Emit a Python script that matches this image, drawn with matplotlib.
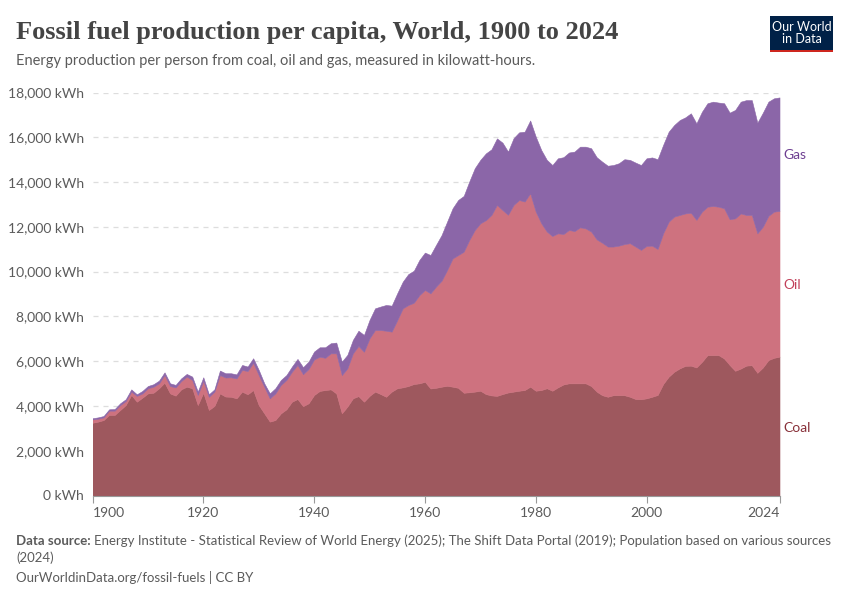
import matplotlib
matplotlib.use('Agg')
import matplotlib.pyplot as plt
from matplotlib.patches import Rectangle

# ------------------------------------------------------------
#  Data (kWh per person)
# ------------------------------------------------------------
years = list(range(1900, 2025))

coal = [
    3250, 3300, 3370, 3600, 3600, 3820, 4040, 4490, 4190, 4370,   # 1900s
    4560, 4590, 4790, 5040, 4560, 4460, 4740, 4860, 4790, 4040,   # 1910s
    4590, 3820, 4000, 4560, 4420, 4410, 4340, 4640, 4520, 4710,   # 1920s
    4040, 3670, 3300, 3370, 3670, 3850, 4190, 4310, 3990, 4120,   # 1930s
    4490, 4670, 4710, 4740, 4560, 3670, 3970, 4340, 4440, 4190,   # 1940s
    4450, 4640, 4530, 4410, 4640, 4790, 4830, 4890, 4980, 5010,   # 1950s
    5080, 4780, 4810, 4860, 4900, 4860, 4810, 4590, 4610, 4640,   # 1960s
    4680, 4530, 4470, 4450, 4530, 4600, 4640, 4680, 4710, 4860,   # 1970s
    4680, 4710, 4790, 4680, 4830, 4960, 5010, 5010, 5010, 5010,   # 1980s
    4890, 4640, 4480, 4410, 4480, 4480, 4480, 4410, 4310, 4300,   # 1990s
    4340, 4410, 4490, 4980, 5310, 5530, 5680, 5790, 5800, 5720,   # 2000s
    5970, 6270, 6270, 6270, 6120, 5830, 5570, 5670, 5800, 5820,   # 2010s
    5480, 5720, 6050, 6150, 6200,                                 # 2020s
]

oil = [
    150, 130, 120, 190, 190, 220, 180, 150, 260, 190,
    230, 270, 220, 340, 330, 370, 370, 450, 370, 450,
    540, 590, 640, 820, 850, 870, 890, 970, 1040, 1220,
    1340, 1190, 1040, 1190, 1270, 1310, 1340, 1520, 1430, 1530,
    1590, 1530, 1440, 1610, 1790, 1710, 1710, 2010, 2240, 2230,
    2570, 2750, 2860, 2950, 2680, 3040, 3530, 3620, 3630, 3940,
    4100, 4250, 4520, 4730, 5170, 5730, 5930, 6300, 6800, 7220,
    7480, 7770, 8060, 8530, 8220, 7940, 8340, 8520, 8420, 8640,
    8000, 7450, 7000, 6910, 6880, 6720, 6850, 6800, 6970, 6920,
    6900, 6800, 6810, 6710, 6640, 6680, 6750, 6860, 6810, 6670,
    6810, 6750, 6520, 6730, 6920, 6930, 6850, 6810, 6830, 6590,
    6710, 6630, 6660, 6630, 6710, 6510, 6810, 6930, 6730, 6710,
    6230, 6290, 6440, 6530, 6510,
]

gas = [
    50, 60, 60, 60, 70, 80, 80, 100, 70, 110,
    100, 110, 120, 120, 120, 110, 120, 120, 150, 150,
    150, 110, 100, 200, 190, 180, 180, 220, 200, 200,
    230, 150, 220, 230, 220, 220, 230, 270, 310, 330,
    350, 420, 470, 450, 480, 600, 600, 600, 680, 750,
    820, 970, 1050, 1150, 1160, 1200, 1190, 1380, 1430, 1570,
    1670, 1710, 1860, 2040, 2160, 2240, 2460, 2490, 2610, 2760,
    2830, 2980, 2930, 2970, 3010, 2820, 2980, 3020, 3120, 3250,
    3350, 3270, 3200, 3170, 3350, 3430, 3460, 3550, 3600, 3650,
    3720, 3670, 3620, 3610, 3640, 3680, 3790, 3720, 3750, 3790,
    3910, 3940, 4010, 3950, 4020, 4090, 4240, 4290, 4440, 4310,
    4460, 4620, 4660, 4650, 4690, 4760, 4840, 4990, 5130, 5130,
    4940, 5090, 5100, 5060, 5070,
]

series_names = ['Coal', 'Oil', 'Gas']
fill_colors  = ['#9E585E', '#CE727F', '#8B66A8']
label_colors = ['#883039', '#C2405A', '#6D3E91']

y_ticks      = list(range(0, 18001, 2000))
x_tick_years = [1900, 1920, 1940, 1960, 1980, 2000, 2024]

TEXT_GRAY = '#5B5B5B'
plt.rcParams['font.family'] = ['Lato', 'DejaVu Sans']

# ------------------------------------------------------------
#  Figure
# ------------------------------------------------------------
W, H = 850, 600
fig = plt.figure(figsize=(W / 100, H / 100), dpi=100)

def px(x, y):
    # pixel position -> figure fraction
    return x / W, 1 - y / H

left, right, top, bottom = 92.5, 779.5, 92.5, 495.5
ax = fig.add_axes([left / W, 1 - bottom / H, (right - left) / W, (bottom - top) / H])

stack = ax.stackplot(years, coal, oil, gas, colors=fill_colors, linewidth=0.4)
for poly, c in zip(stack, fill_colors):
    poly.set_edgecolor(c)

ax.set_xlim(1900, 2024)
ax.set_ylim(0, 18000)

# grid
ax.set_yticks(y_ticks)
ax.set_yticklabels([f'{v:,} kWh' for v in y_ticks], color=TEXT_GRAY, fontsize=10)
for v in y_ticks[1:]:
    ax.axhline(v, color='#DDDDDD', lw=0.9, ls=(0, (4, 4)), zorder=0)
ax.tick_params(axis='y', length=0, pad=6)

ax.set_xticks(x_tick_years)
ax.set_xticklabels([str(y) for y in x_tick_years], color=TEXT_GRAY, fontsize=10)
ax.tick_params(axis='x', length=5, color='#999999', width=0.8, pad=3)
xl = ax.get_xticklabels()
xl[0].set_ha('left')
xl[-1].set_ha('right')

for s in ['top', 'right', 'left']:
    ax.spines[s].set_visible(False)
ax.spines['bottom'].set_color('#999999')
ax.spines['bottom'].set_linewidth(0.8)
ax.set_axisbelow(True)

# series labels at the right edge
label_y = [428, 285, 155]
for name, col, yy in zip(series_names, label_colors, label_y):
    fig.text(*px(783, yy), name, color=col, fontsize=10, va='center', ha='left')

# ------------------------------------------------------------
#  Header / footer
# ------------------------------------------------------------
fig.text(*px(16, 32), 'Fossil fuel production per capita, World, 1900 to 2024',
         family='Liberation Serif', fontsize=19, weight='bold', color='#444444',
         va='center', ha='left')
fig.text(*px(16, 61),
         'Energy production per person from coal, oil and gas, measured in kilowatt-hours.',
         fontsize=10.5, color=TEXT_GRAY, va='center', ha='left')

src = fig.text(*px(16, 541), 'Data source:', fontsize=9.5, color=TEXT_GRAY,
               weight='bold', va='center', ha='left')
fig.canvas.draw()
bb = src.get_window_extent()
fig.text((bb.x1 + 3) / W, 1 - 541 / H,
         'Energy Institute - Statistical Review of World Energy (2025); '
         'The Shift Data Portal (2019); Population based on various sources',
         fontsize=9.5, color=TEXT_GRAY, va='center', ha='left')
fig.text(*px(16, 558), '(2024)', fontsize=9.5, color=TEXT_GRAY, va='center', ha='left')
fig.text(*px(16, 577), 'OurWorldinData.org/fossil-fuels | CC BY', fontsize=9.5,
         color=TEXT_GRAY, va='center', ha='left')

# logo
fig.patches.append(Rectangle(px(770, 52), 63 / W, 36 / H, transform=fig.transFigure,
                             facecolor='#002147', edgecolor='none'))
fig.patches.append(Rectangle(px(770, 52), 63 / W, 2.5 / H, transform=fig.transFigure,
                             facecolor='#CE261E', edgecolor='none'))
fig.text(*px(801.5, 33), 'Our World\nin Data', color='white', fontsize=9,
         ha='center', va='center', linespacing=1.0)

fig.savefig('out.png', dpi=100)
